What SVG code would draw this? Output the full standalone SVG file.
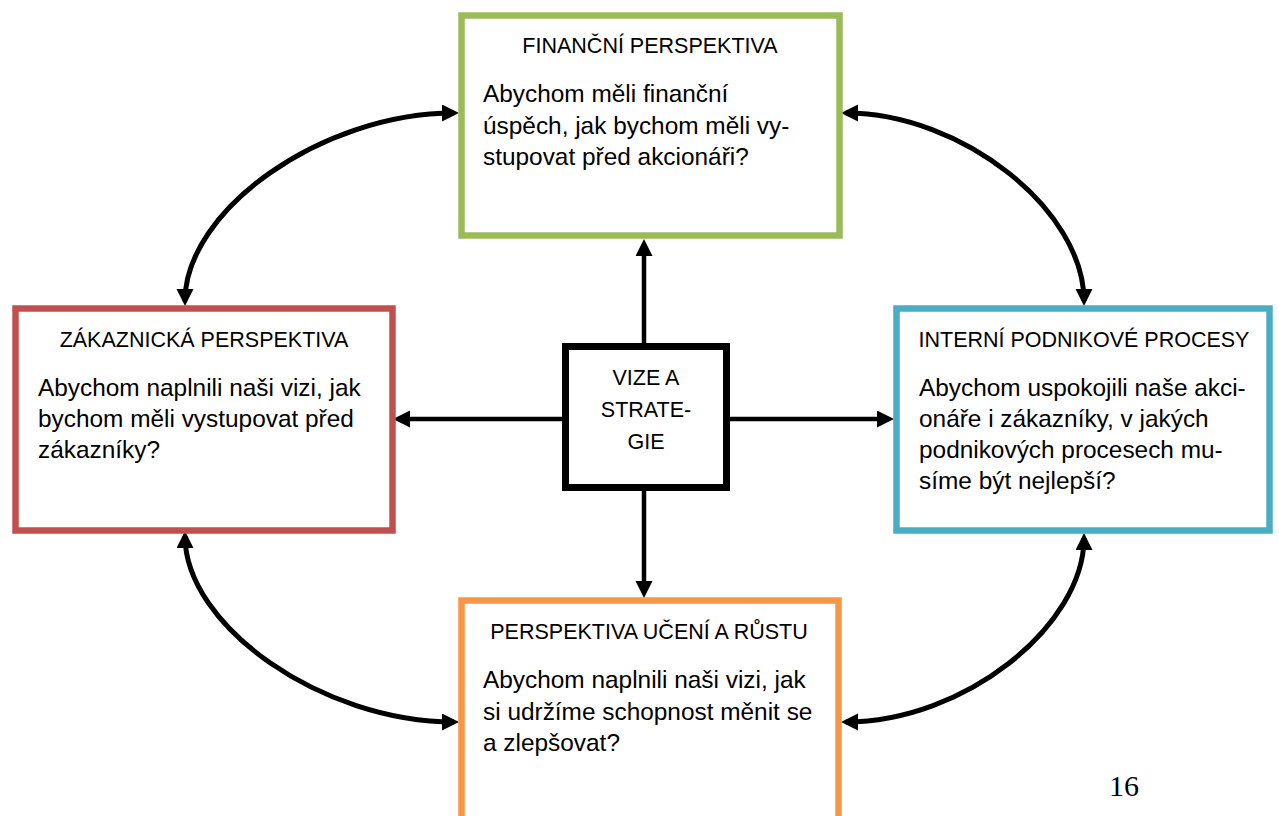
<svg xmlns="http://www.w3.org/2000/svg" width="1279" height="816" viewBox="0 0 1279 816">
  <style>
    .box { fill: #ffffff; stroke-width: 6.5; }
    .title { font-family: "Liberation Sans", Arial, sans-serif; font-size: 21.5px; fill: #000; text-anchor: middle; }
    .body { font-family: "Liberation Sans", Arial, sans-serif; font-size: 24.4px; fill: #000; }
    .link { fill: none; stroke: #000; stroke-width: 4.5; }
    .arc { fill: none; stroke: #000; stroke-width: 5; }
  </style>
  <defs>
    <marker id="head" markerUnits="userSpaceOnUse" markerWidth="18" markerHeight="18" refX="12" refY="8.5" orient="auto-start-reverse">
      <path d="M0,0 L17,8.5 L0,17 z" fill="#000"/>
    </marker>
  </defs>
  <rect width="1279" height="816" fill="#ffffff"/>

  <!-- connectors -->
  <g id="connectors">
    <path class="link" d="M644,343 V244" marker-end="url(#head)"/>
    <path class="link" d="M644,491 V593" marker-end="url(#head)"/>
    <path class="link" d="M562,419 H398" marker-end="url(#head)"/>
    <path class="link" d="M730,419 H889" marker-end="url(#head)"/>
    <path class="arc" d="M185,301 C185,210 322,113 454,113" marker-start="url(#head)" marker-end="url(#head)"/>
    <path class="arc" d="M846,113 C962,113 1084,210 1084,301" marker-start="url(#head)" marker-end="url(#head)"/>
    <path class="arc" d="M185,536 C185,626 322,722 454,722" marker-start="url(#head)" marker-end="url(#head)"/>
    <path class="arc" d="M1084,538 C1084,626 964,722 846,722" marker-start="url(#head)" marker-end="url(#head)"/>
  </g>

  <g id="financni">
    <rect class="box" x="461.5" y="15.5" width="378" height="220" stroke="#9BBB59"/>
    <text class="title" x="650" y="53">FINANČNÍ PERSPEKTIVA</text>
    <text class="body" x="483" y="102">Abychom měli finanční</text>
    <text class="body" x="483" y="133.5">úspěch, jak bychom měli vy-</text>
    <text class="body" x="483" y="165">stupovat před akcionáři?</text>
  </g>

  <g id="zakaznicka">
    <rect class="box" x="15.5" y="308.5" width="377" height="222" stroke="#C0504D"/>
    <text class="title" x="204" y="347">ZÁKAZNICKÁ PERSPEKTIVA</text>
    <text class="body" x="38" y="396">Abychom naplnili naši vizi, jak</text>
    <text class="body" x="38" y="427">bychom měli vystupovat před</text>
    <text class="body" x="38" y="458">zákazníky?</text>
  </g>

  <g id="interni">
    <rect class="box" x="896.5" y="308.5" width="373" height="222" stroke="#4BACC6"/>
    <text class="title" x="1084" y="347">INTERNÍ PODNIKOVÉ PROCESY</text>
    <text class="body" x="919" y="396">Abychom uspokojili naše akci-</text>
    <text class="body" x="919" y="427">onáře i zákazníky, v jakých</text>
    <text class="body" x="919" y="458">podnikových procesech mu-</text>
    <text class="body" x="919" y="489">síme být nejlepší?</text>
  </g>

  <g id="uceni">
    <rect class="box" x="461.5" y="600.5" width="377" height="240" stroke="#F79646"/>
    <text class="title" x="649" y="639">PERSPEKTIVA UČENÍ A RŮSTU</text>
    <text class="body" x="483" y="688">Abychom naplnili naši vizi, jak</text>
    <text class="body" x="483" y="719.5">si udržíme schopnost měnit se</text>
    <text class="body" x="483" y="751">a zlepšovat?</text>
  </g>

  <g id="vize">
    <rect x="565.5" y="346.5" width="161" height="141" fill="#ffffff" stroke="#000" stroke-width="7"/>
    <text class="title" x="646" y="385">VIZE A</text>
    <text class="title" x="646" y="417">STRATE-</text>
    <text class="title" x="646" y="449">GIE</text>
  </g>

  <text x="1109" y="796" font-family="Liberation Serif, 'Times New Roman', serif" font-size="30" fill="#000">16</text>
</svg>
